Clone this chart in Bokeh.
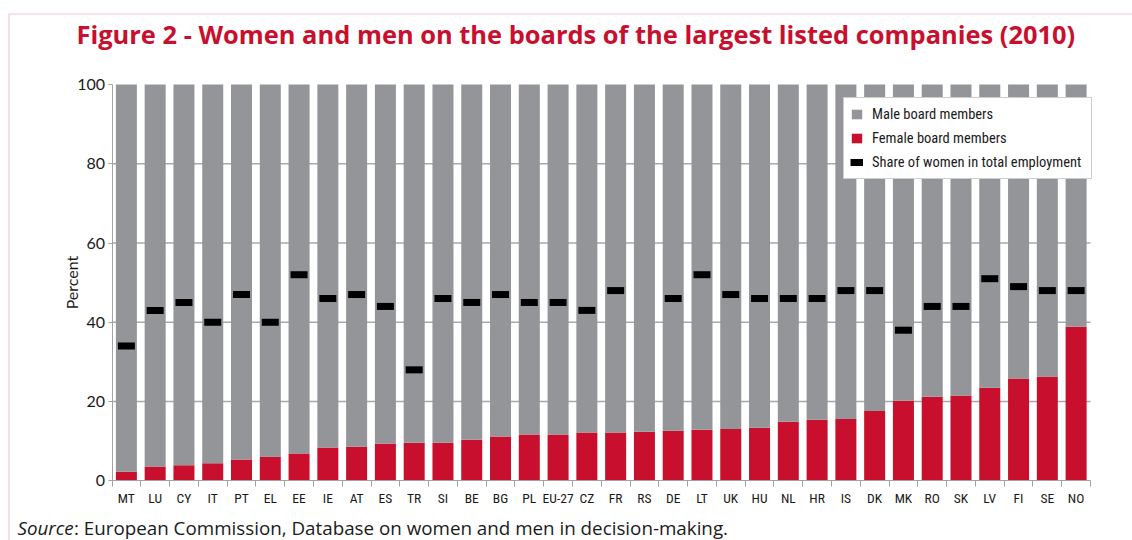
import numpy as np
from bokeh.plotting import figure
from bokeh.models import (ColumnDataSource, FixedTicker, Legend, LegendItem,
                          Label, BoxAnnotation, Range1d, LinearAxis)
from bokeh.embed import file_html
from bokeh.resources import INLINE

# Board composition of the largest listed companies, 2010 (percent)
countries = ["MT", "LU", "CY", "IT", "PT", "EL", "EE", "IE", "AT", "ES", "TR",
             "SI", "BE", "BG", "PL", "EU-27", "CZ", "FR", "RS", "DE", "LT",
             "UK", "HU", "NL", "HR", "IS", "DK", "MK", "RO", "SK", "LV", "FI",
             "SE", "NO"]
female = [2.3, 3.6, 3.9, 4.4, 5.4, 6.1, 6.9, 8.4, 8.6, 9.4, 9.6,
          9.6, 10.4, 11.2, 11.7, 11.7, 12.2, 12.2, 12.4, 12.6, 12.9,
          13.1, 13.4, 14.9, 15.4, 15.6, 17.6, 20.2, 21.2, 21.5, 23.5, 25.8,
          26.3, 38.9]
male = [97.7, 96.4, 96.1, 95.6, 94.6, 93.9, 93.1, 91.6, 91.4, 90.6, 90.4,
        90.4, 89.6, 88.8, 88.3, 88.3, 87.8, 87.8, 87.6, 87.4, 87.1,
        86.9, 86.6, 85.1, 84.6, 84.4, 82.4, 79.8, 78.8, 78.5, 76.5, 74.2,
        73.7, 61.1]
# Share of women in total employment (no value for RS)
employment = [34, 43, 45, 40, 47, 40, 52, 46, 47, 44, 28,
              46, 45, 47, 45, 45, 43, 48, None, 46, 52,
              47, 46, 46, 46, 48, 48, 38, 44, 44, 51, 49,
              48, 48]
y_ticks = [0, 20, 40, 60, 80, 100]

RED = "#c8102e"
GREY = "#939598"
AXIS_GREY = "#a3a3a3"
TEXT = "#1a1a1a"
LABEL_FONT = "Lato"
NARROW_FONT = "Roboto Condensed"

# page geometry (pixels): the plotting area sits inside a full-canvas frame
W, H = 1132, 540
AREA_LEFT, AREA_RIGHT, AREA_TOP, AREA_BOTTOM = 111.5, 1090.0, 84.0, 480.3

n = len(countries)
pos = np.arange(n)
emp = np.array([np.nan if v is None else v for v in employment], dtype=float)
half = 0.295

ux = (AREA_RIGHT - AREA_LEFT) / n
uy = (AREA_BOTTOM - AREA_TOP) / 100.0
x_range = Range1d(-0.5 - AREA_LEFT / ux, -0.5 + (W - AREA_LEFT) / ux)
y_range = Range1d(-(H - AREA_BOTTOM) / uy, 100 + AREA_TOP / uy)

src = ColumnDataSource(dict(
    x=pos, female=female, male=male, emp=emp,
    x0=pos - half, x1=pos + half,
))

p = figure(width=W, height=H, output_backend="svg", toolbar_location=None,
           x_range=x_range, y_range=y_range, min_border=0,
           x_axis_type=None, y_axis_type=None)
p.outline_line_color = None
p.background_fill_color = "white"
p.border_fill_color = "white"

# horizontal grid lines behind the bars
for g in y_ticks[1:-1]:
    p.segment(x0=-0.5, x1=n - 0.5, y0=g, y1=g, line_color="#a7a9ac", line_width=1.5)

# stacked bars: female at the bottom, male on top
female_r, male_r = p.vbar_stack(["female", "male"], x="x", width=0.73,
                                color=[RED, GREY], line_color=None, source=src)

# employment markers
emp_r = p.segment(x0="x0", y0="emp", x1="x1", y1="emp", line_width=7,
                  line_color="black", line_cap="butt", source=src)

# x axis: country labels under bars, ticks between bars
xax = LinearAxis(fixed_location=0, bounds=(-0.5, n - 0.5))
xax.ticker = FixedTicker(ticks=list(pos), minor_ticks=[i - 0.5 for i in range(n + 1)])
xax.major_label_overrides = {int(i): c for i, c in zip(pos, countries)}
xax.major_tick_line_color = None
xax.major_tick_out = 0
xax.major_tick_in = 0
xax.minor_tick_out = 6
xax.minor_tick_in = 0
xax.minor_tick_line_color = AXIS_GREY
xax.axis_line_color = AXIS_GREY
xax.major_label_standoff = 3
xax.major_label_text_font = NARROW_FONT
xax.major_label_text_font_size = "13.5px"
xax.major_label_text_color = TEXT
p.add_layout(xax, "below")

yax = LinearAxis(fixed_location=-0.5, bounds=(0, 100))
yax.ticker = FixedTicker(ticks=y_ticks)
yax.major_tick_out = 4
yax.major_tick_in = 0
yax.major_tick_line_color = AXIS_GREY
yax.minor_tick_line_color = None
yax.axis_line_color = AXIS_GREY
yax.major_label_standoff = 3
yax.major_label_text_font = LABEL_FONT
yax.major_label_text_font_size = "16px"
yax.major_label_text_color = TEXT
yax.axis_label = "Percent"
yax.axis_label_text_font = LABEL_FONT
yax.axis_label_text_font_size = "16px"
yax.axis_label_text_font_style = "normal"
yax.axis_label_text_color = TEXT
yax.axis_label_standoff = -6
p.add_layout(yax, "left")

legend = Legend(items=[
    LegendItem(label="Male board members", renderers=[male_r]),
    LegendItem(label="Female board members", renderers=[female_r]),
    LegendItem(label="Share of women in total employment", renderers=[emp_r]),
], location=(843, H - 179))
legend.padding = 6
legend.spacing = 4
legend.margin = 0
legend.glyph_width = 13
legend.glyph_height = 12
legend.label_height = 20
legend.label_width = 213
legend.label_standoff = 9
legend.label_text_font = NARROW_FONT
legend.label_text_font_size = "14.5px"
legend.label_text_color = TEXT
legend.border_line_color = "#9b9b9b"
legend.border_line_width = 1
legend.background_fill_color = "white"
legend.background_fill_alpha = 1.0
p.add_layout(legend)

# frame around the figure (top and left edges visible)
p.add_layout(BoxAnnotation(left=8.5, right=W + 50, top=H - 13.5, bottom=-50,
                           left_units="screen", right_units="screen",
                           top_units="screen", bottom_units="screen",
                           fill_color=None, line_color="#d24c66", line_width=1.2))

p.add_layout(Label(x=76, y=H - 33.5, x_units="screen", y_units="screen",
                   text="Figure 2 - Women and men on the boards of the largest listed companies (2010)",
                   text_font="Open Sans", text_font_style="bold", text_font_size="25.45px",
                   text_color=RED, text_baseline="alphabetic"))

p.add_layout(Label(x=17, y=H - 527.3, x_units="screen", y_units="screen",
                   text="Source", text_font="Open Sans", text_font_style="italic",
                   text_font_size="18.8px", text_color=TEXT, text_baseline="alphabetic"))
p.add_layout(Label(x=73.5, y=H - 527.3, x_units="screen", y_units="screen",
                   text=": European Commission, Database on women and men in decision-making.",
                   text_font="Open Sans", text_font_size="18.8px", text_color=TEXT,
                   text_baseline="alphabetic"))

open("out.html", "w").write(file_html(p, INLINE, title="Women and men on company boards"))
